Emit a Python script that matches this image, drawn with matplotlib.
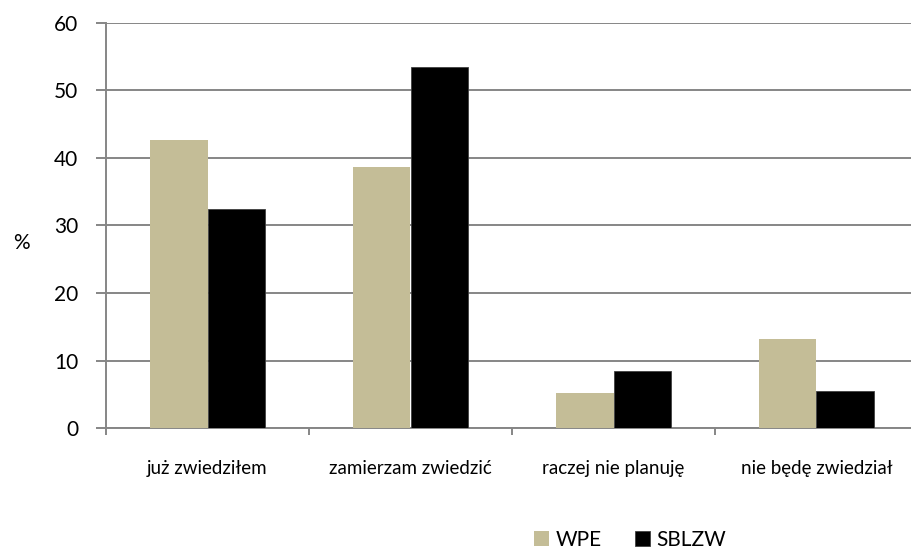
import numpy as np
import matplotlib
matplotlib.use("Agg")
import matplotlib.pyplot as plt
from matplotlib.ticker import FixedLocator

plt.rcParams['font.family'] = ['Lato', 'DejaVu Sans']

kategorie = ["już zwiedziłem", "zamierzam zwiedzić",
             "raczej nie planuję", "nie będę zwiedział"]
wpe   = [42.6, 38.7, 5.2, 13.2]
sblzw = [32.4, 53.5, 8.5, 5.5]

KOL_WPE = "#C4BD97"
KOL_SB  = "#000000"
SZARY   = "#868686"

W, H = 911, 549
fig = plt.figure(figsize=(W/100, H/100), dpi=100)
ax = fig.add_axes([106/W, (H-428.3)/H, 812/W, 405.6/H])

x = np.arange(len(kategorie))
bw = 0.285
ax.bar(x - bw/2, wpe, bw, color=KOL_WPE, label="WPE", zorder=3)
ax.bar(x + bw/2, sblzw, bw, color=KOL_SB, label="SBLZW", zorder=3,
       edgecolor="#404040", linewidth=0.6)

ax.set_xlim(-0.5, len(kategorie) - 0.5)
ax.set_ylim(0, 60)
ax.set_yticks(range(0, 61, 10))
ax.yaxis.grid(True, color=SZARY, lw=1.4, zorder=0)
ax.set_axisbelow(True)

ax.set_xticks(x)
ax.set_xticklabels(kategorie, fontsize=13.5)
ax.xaxis.set_minor_locator(FixedLocator(np.arange(-0.5, len(kategorie), 1)))
ax.tick_params(axis="x", which="major", length=0, pad=23)
ax.tick_params(axis="x", which="minor", length=5, width=1.4, color=SZARY)
ax.tick_params(axis="y", length=7, width=1.4, color=SZARY, labelsize=15, pad=13)

for s in ["top", "right"]:
    ax.spines[s].set_visible(False)
for s in ["left", "bottom"]:
    ax.spines[s].set_color(SZARY)
    ax.spines[s].set_linewidth(1.4)

fig.text(21/W, 1 - 243/H, "%", fontsize=15, ha="center", va="center")

fig.legend(loc="center", bbox_to_anchor=(630/W, 1 - 540/H), ncol=2,
           frameon=False, fontsize=15, handlelength=0.75, handleheight=0.75,
           handletextpad=0.3, columnspacing=1.6)

plt.savefig("out.png", dpi=100)
